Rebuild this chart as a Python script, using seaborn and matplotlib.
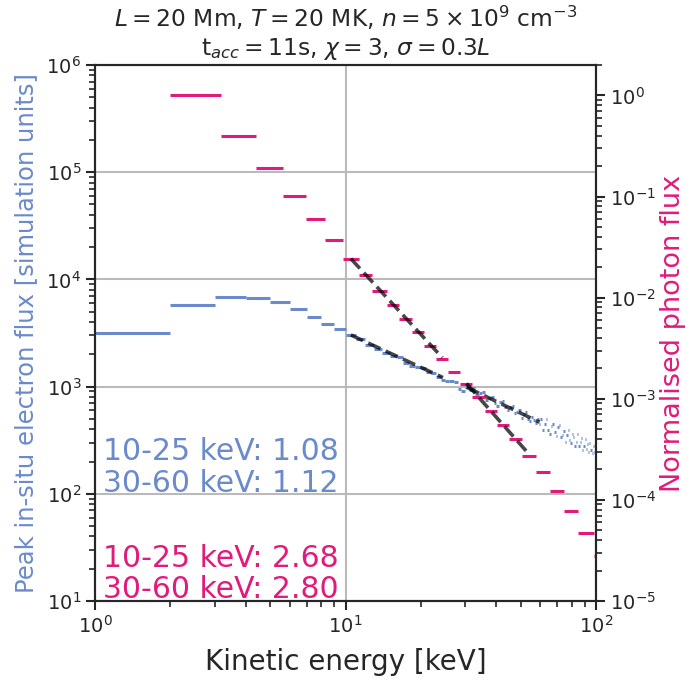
import numpy as np
import pandas as pd
import matplotlib
matplotlib.use("Agg")
import matplotlib.pyplot as plt
import seaborn as sns

# ---------------------------------------------------------------- data
# peak in-situ electron flux, 1 keV bins from 1 to 100 keV
electron_edges = list(range(1, 101))
electron_flux = [
    3180, 5800, 6810, 6700, 6110, 5290, 4490, 3860, 3470, 3030,      # 1-10
    2780, 2440, 2230, 2070, 1930, 1880, 1650, 1570, 1530, 1480,      # 11-20
    1370, 1330, 1240, 1150, 1135, 1120, 1110, 950, 915,              # 21-29
    984, 921, 962, 842, 874, 896, 749, 781, 803, 708,                # 30-39
    659, 725, 740, 641, 606, 648, 657, 569, 579, 601,                # 40-49
    514, 552, 579, 503, 478, 523, 493, 455, 502, 452,                # 50-59
    503, 395, 450, 494, 391, 359, 432, 452, 378, 348,                # 60-69
    416, 436, 336, 356, 384, 303, 355, 391, 317, 297,                # 70-79
    365, 340, 281, 306, 358, 282, 306, 329, 256, 280,                # 80-89
    326, 259, 293, 244, 296, 258, 241, 281, 244, 252,                # 90-99
]

# normalised photon flux in instrument energy bins
photon_edges = [2.0, 3.18, 4.39, 5.65, 6.95, 8.3, 9.75, 11.3, 12.8, 14.6,
                16.4, 18.4, 20.6, 23.0, 25.7, 28.7, 32.1, 35.9, 40.2, 45.1,
                50.8, 57.5, 65.5, 74.5, 85.0, 97.8, 110.0]
photon_flux = [1.0, 0.40, 0.191, 0.102, 0.0595, 0.0372, 0.0243, 0.01664,
               0.01175, 0.00841, 0.00616, 0.00455, 0.00336, 0.00250,
               0.00186, 0.00140, 0.00104, 0.000759, 0.000548, 0.000396,
               0.000273, 0.000187, 0.000122, 7.75e-5, 4.73e-5, 2.8e-5]

# power-law fits: band name, energy span, spectral index, flux at span start
fit_bands = ["10-25", "30-60"]
electron_fit_start = [10.5, 30.5]
electron_fit_stop = [24.5, 59.5]
electron_fit_index = [1.08, 1.12]
electron_fit_norm = [3030, 984]
photon_fit_start = [10.5, 30.4]
photon_fit_stop = [24.35, 54.4]
photon_fit_index = [2.68, 2.80]
photon_fit_norm = [0.0243, 0.001416]

blue = "#6a8acb"
pink = "#e01b7b"
ink = "#262626"


def step_frame(edges, values):
    rows = []
    for i, v in enumerate(values):
        rows.append((i, edges[i], v))
        rows.append((i, edges[i + 1], v))
    return pd.DataFrame(rows, columns=["bin", "energy", "flux"])


def fit_frame(starts, stops, indices, norms):
    rows = []
    for k, (e0, e1, idx, a) in enumerate(zip(starts, stops, indices, norms)):
        for e in (e0, e1):
            rows.append((k, e, a * (e / e0) ** (-idx)))
    return pd.DataFrame(rows, columns=["band", "energy", "flux"])


# ---------------------------------------------------------------- style
sns.set_style("ticks")
plt.rcParams["font.family"] = ["DejaVu Sans"]
plt.rcParams["mathtext.fontset"] = "dejavusans"
plt.rcParams["axes.edgecolor"] = ink
plt.rcParams["xtick.color"] = ink
plt.rcParams["ytick.color"] = ink
plt.rcParams["text.color"] = ink
plt.rcParams["lines.solid_capstyle"] = "butt"

fig = plt.figure(figsize=(6.92, 6.82), dpi=100)
ax = fig.add_axes([0.1373, 0.1188, 0.724, 0.7859])
ax2 = ax.twinx()

for a in (ax, ax2):
    a.set_xscale("log")
    a.set_yscale("log")

# electron flux (left axis)
sns.lineplot(data=step_frame(electron_edges, electron_flux), x="energy", y="flux",
             units="bin", estimator=None, color=blue, lw=2.2, ax=ax,
             legend=False)
sns.lineplot(data=fit_frame(electron_fit_start, electron_fit_stop,
                            electron_fit_index, electron_fit_norm),
             x="energy", y="flux", units="band", estimator=None, color="k",
             alpha=0.72, lw=2.6, linestyle="--", ax=ax, legend=False)

# photon flux (right axis)
sns.lineplot(data=step_frame(photon_edges, photon_flux), x="energy", y="flux",
             units="bin", estimator=None, color=pink, lw=2.2, ax=ax2,
             legend=False)
sns.lineplot(data=fit_frame(photon_fit_start, photon_fit_stop,
                            photon_fit_index, photon_fit_norm),
             x="energy", y="flux", units="band", estimator=None, color="k",
             alpha=0.72, lw=2.6, linestyle="--", ax=ax2, legend=False)

ax.set_xlim(1, 100)
ax.set_ylim(10, 1e6)
ax2.set_ylim(1e-5, 2.0)

ax.grid(True, which="major", color="#bababa", lw=1.5)
ax.set_axisbelow(True)
ax2.grid(False)

for a in (ax, ax2):
    for sp in a.spines.values():
        sp.set_visible(True)
        sp.set_linewidth(1.5)
        sp.set_color(ink)
    a.tick_params(which="major", length=6.5, width=1.5, labelsize=14)
    a.tick_params(which="minor", length=4, width=1.2)

ax.set_xlabel("Kinetic energy [keV]", fontsize=20, labelpad=8)
ax.set_ylabel("Peak in-situ electron flux [simulation units]", fontsize=17.5,
              color=blue, labelpad=6)
ax2.set_ylabel("Normalised photon flux", fontsize=19.5, color=pink, labelpad=3)

ax.set_title(r"$L = 20$ Mm, $T = 20$ MK, $n = 5 \times 10^9$ cm$^{-3}$" "\n"
             r"t$_{acc} = 11$s, $\chi = 3$, $\sigma = 0.3L$",
             fontsize=16.8, pad=7)

# spectral indices of the fits
text_rows = [0.263, 0.204, 0.064, 0.005]
labels = ([(f"{b} keV: {i:.2f}", blue) for b, i in zip(fit_bands, electron_fit_index)]
          + [(f"{b} keV: {i:.2f}", pink) for b, i in zip(fit_bands, photon_fit_index)])
for yy, (txt, col) in zip(text_rows, labels):
    ax.text(0.0166, yy, txt, transform=ax.transAxes, color=col, fontsize=21.5,
            va="baseline", ha="left")

fig.savefig("out.png", dpi=100)
